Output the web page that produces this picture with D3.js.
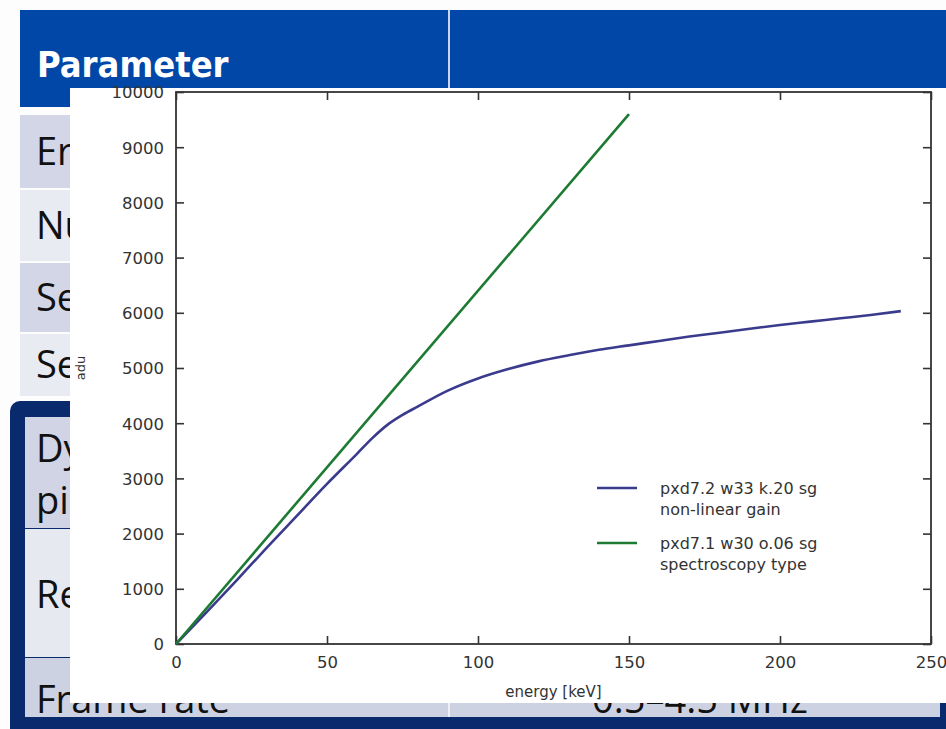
<!DOCTYPE html>
<html>
<head>
<meta charset="utf-8">
<script src="https://cdn.jsdelivr.net/npm/d3@7"></script>
<style>
  html, body { margin: 0; padding: 0; background: #fff; }
  svg { display: block; }
</style>
</head>
<body>
<div id="chart"></div>
<script>
// series: energy [keV] vs adu
const gainEnergy = [0, 10, 20, 30, 40, 50, 60, 65, 70, 75, 80, 90, 100, 110, 120, 130, 140, 150, 160, 170, 180, 190, 200, 210, 220, 230, 240];
const gainAdu = [0, 570, 1150, 1740, 2320, 2900, 3450, 3730, 3970, 4150, 4300, 4590, 4810, 4980, 5120, 5230, 5330, 5410, 5490, 5570, 5640, 5710, 5780, 5840, 5900, 5960, 6030];
const specEnergy = [0, 150];
const specAdu = [0, 9600];

const xTicks = [0, 50, 100, 150, 200, 250];
const yTicks = [0, 1000, 2000, 3000, 4000, 5000, 6000, 7000, 8000, 9000, 10000];

const legendLabels = [
  ["pxd7.2 w33 k.20 sg", "non-linear gain"],
  ["pxd7.1 w30 o.06 sg", "spectroscopy type"]
];
const seriesColors = ["#3b3b8e", "#1d7a33"];

// slide fragments behind the plot
const rowLabels = ["Er", "Nu", "Se", "Se"];
const boxLabels = [["Dy", "pi"], ["Re"], ["Frame rate"]];

const width = 946, height = 729;
const panel = {left: 70, top: 88, right: 946, bottom: 703};
const margin = {top: 92, right: 15, bottom: 85, left: 176};

const svg = d3.select("#chart")
  .append("svg")
  .attr("width", width)
  .attr("height", height)
  .attr("viewBox", `0 0 ${width} ${height}`);

/**
 * Draws the slide table that sits behind the chart.
 */
function renderBackground() {
  let bg = svg.append("g").attr("font-family", "'Open Sans', 'DejaVu Sans', sans-serif");

  bg.append("rect").attr("x", 0).attr("y", 0).attr("width", width).attr("height", height).attr("fill", "#fdfdfd");

  // header band
  bg.append("rect").attr("x", 20).attr("y", 10).attr("width", width - 20).attr("height", 97).attr("fill", "#0047a7");
  bg.append("rect").attr("x", 448).attr("y", 10).attr("width", 2).attr("height", 97).attr("fill", "#c9d6ee");
  bg.append("text")
    .attr("x", 37).attr("y", 77)
    .attr("fill", "#fff")
    .attr("font-family", "'DejaVu Sans Condensed', 'DejaVu Sans', sans-serif")
    .attr("font-weight", "bold")
    .attr("font-size", 36)
    .text("Parameter");

  // plain rows
  let rowY = [115, 190, 263, 334];
  let rowH = [73, 71, 69, 62];
  let rowFill = ["#d2d6e7", "#e9ebf3", "#d2d6e7", "#e9ebf3"];
  rowLabels.forEach((label, i) => {
    bg.append("rect").attr("x", 20).attr("y", rowY[i]).attr("width", width - 20).attr("height", rowH[i]).attr("fill", rowFill[i]);
    bg.append("text")
      .attr("x", 36).attr("y", rowY[i] + rowH[i] / 2 + 13)
      .attr("fill", "#111")
      .attr("font-size", 38)
      .text(label);
  });

  // dark bordered box
  bg.append("rect").attr("x", 10).attr("y", 401).attr("width", width).attr("height", height - 401 + 10)
    .attr("rx", 10).attr("fill", "#0a2a6e");
  let boxY = [417, 529, 658];
  let boxH = [111, 128, 59];
  let boxFill = ["#d0d4e5", "#e7e9f1", "#cdd2e3"];
  let boxBase = [[462, 514], [608], [713]];
  boxLabels.forEach((lines, i) => {
    bg.append("rect").attr("x", 25).attr("y", boxY[i]).attr("width", 915).attr("height", boxH[i]).attr("fill", boxFill[i]);
    lines.forEach((line, j) => {
      bg.append("text")
        .attr("x", 36).attr("y", boxBase[i][j])
        .attr("fill", "#111")
        .attr("font-size", 38)
        .text(line);
    });
  });
  bg.append("rect").attr("x", 448).attr("y", 658).attr("width", 2).attr("height", 59).attr("fill", "#eef0f6");
  bg.append("text")
    .attr("x", 700).attr("y", 713)
    .attr("text-anchor", "middle")
    .attr("fill", "#111")
    .attr("font-size", 38)
    .text("0.5\u20134.5 MHz");

  // white chart panel
  bg.append("rect")
    .attr("x", panel.left).attr("y", panel.top)
    .attr("width", panel.right - panel.left).attr("height", panel.bottom - panel.top)
    .attr("fill", "#fff");
}

/**
 * Draws the plot: frame, ticks, lines and legend.
 */
function renderChart() {
  let x = d3.scaleLinear().domain([0, 250]).range([margin.left, width - margin.right]);
  let y = d3.scaleLinear().domain([0, 10000]).range([644, margin.top]);

  let frame = "#333";
  let tickLen = 8;
  let font = "'DejaVu Sans', Verdana, sans-serif";

  let bottom = svg.append("g")
    .attr("transform", `translate(0,${y(0)})`)
    .call(d3.axisBottom(x).tickValues(xTicks).tickSizeInner(-tickLen).tickSizeOuter(0).tickPadding(12).tickFormat(d3.format("d")));
  let left = svg.append("g")
    .attr("transform", `translate(${x(0)},0)`)
    .call(d3.axisLeft(y).tickValues(yTicks).tickSizeInner(-tickLen).tickSizeOuter(0).tickPadding(12).tickFormat(d3.format("d")));
  let top = svg.append("g")
    .attr("transform", `translate(0,${y(10000)})`)
    .call(d3.axisTop(x).tickValues(xTicks).tickSizeInner(-tickLen).tickSizeOuter(0).tickFormat(""));
  let right = svg.append("g")
    .attr("transform", `translate(${x(250)},0)`)
    .call(d3.axisRight(y).tickValues(yTicks).tickSizeInner(-tickLen).tickSizeOuter(0).tickFormat(""));

  [top, right].forEach(g => g.selectAll(".tick text").remove());
  [bottom, left, top, right].forEach(g => {
    g.select(".domain").remove();
    g.selectAll(".tick line").attr("stroke", frame).attr("stroke-width", 1.6);
    g.selectAll(".tick text").attr("fill", "#333").attr("font-family", font).attr("font-size", 16.5);
  });
  left.selectAll(".tick text").attr("dy", "0.36em");

  svg.append("rect")
    .attr("x", x(0)).attr("y", y(10000))
    .attr("width", x(250) - x(0)).attr("height", y(0) - y(10000))
    .attr("fill", "none")
    .attr("stroke", frame)
    .attr("stroke-width", 1.8);

  // axis titles
  svg.append("text")
    .attr("x", (x(0) + x(250)) / 2).attr("y", 697)
    .attr("text-anchor", "middle")
    .attr("fill", "#333").attr("font-family", font).attr("font-size", 15)
    .text("energy [keV]");
  svg.append("text")
    .attr("transform", `translate(85,${y(5000)}) rotate(-90)`)
    .attr("text-anchor", "middle")
    .attr("fill", "#333").attr("font-family", font).attr("font-size", 13)
    .text("adu");

  // lines
  let line = d3.line().x(d => x(d[0])).y(d => y(d[1])).curve(d3.curveMonotoneX);
  let series = [
    d3.zip(gainEnergy, gainAdu),
    d3.zip(specEnergy, specAdu)
  ];
  svg.append("g")
    .selectAll("path")
    .data(series)
    .enter()
    .append("path")
    .attr("d", line)
    .attr("fill", "none")
    .attr("stroke", (d, i) => seriesColors[i])
    .attr("stroke-width", 2.6);

  // legend
  let legend = svg.append("g").attr("font-family", font).attr("font-size", 16).attr("fill", "#333");
  legendLabels.forEach((lines, i) => {
    let ly = 488 + i * 55;
    legend.append("line")
      .attr("x1", 597).attr("x2", 637)
      .attr("y1", ly).attr("y2", ly)
      .attr("stroke", seriesColors[i]).attr("stroke-width", 2.6);
    lines.forEach((t, j) => {
      legend.append("text")
        .attr("x", 660).attr("y", ly + 6 + j * 21)
        .text(t);
    });
  });
}

renderBackground();
renderChart();
</script>
</body>
</html>
